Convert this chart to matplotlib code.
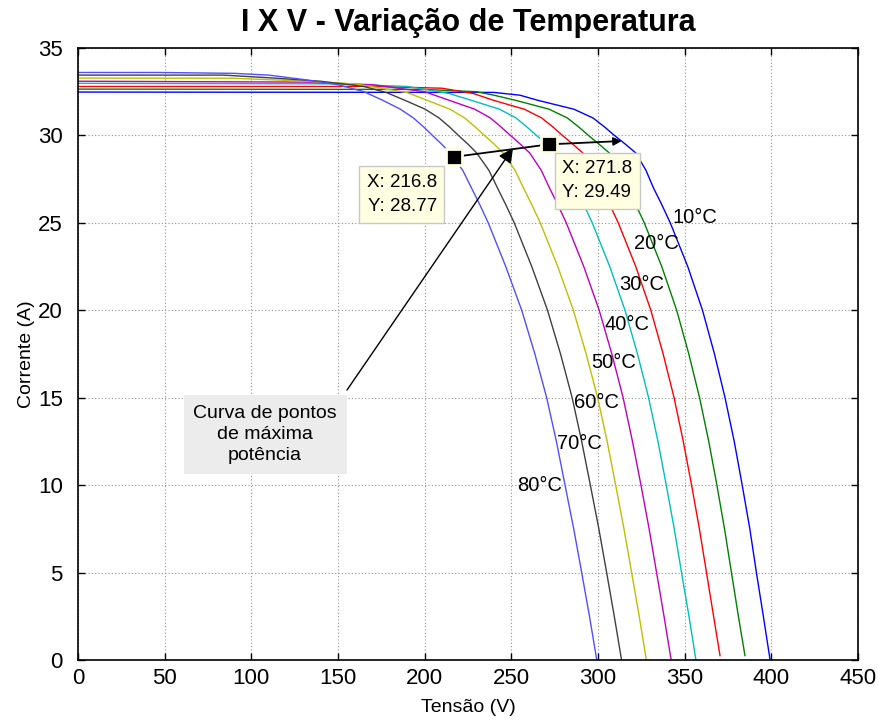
import matplotlib
matplotlib.use("Agg")
import matplotlib.pyplot as plt

plt.rcParams['font.family'] = ['Liberation Sans', 'DejaVu Sans']

# curvas I x V (tensao V, corrente A)
v_80 = [0, 47, 90, 110, 130, 150, 165, 176.0, 186.0, 193.5, 199.3, 204.5, 209.8, 214.7, 222.0, 227.0, 232.0, 236.7,
        246.8, 256.0, 263.6, 270.4, 276.0, 281.0, 286.0, 290.6, 295.1, 299.3]
i_80 = [33.6, 33.6, 33.55, 33.45, 33.2, 32.9, 32.5, 32.0, 31.5, 31.0, 30.5, 30.0, 29.5, 29.0, 28.0, 27.0, 26.0, 25.0,
        22.5, 20.0, 17.5, 15.0, 12.5, 10.0, 7.5, 5.0, 2.5, 0.0]

v_70 = [0, 84, 110, 140, 165, 178, 188.8, 200.3, 208.3, 214.2, 219.5, 225.0, 230.0, 237.1, 242.0, 247.0, 251.7,
        261.8, 270.9, 278.4, 285.1, 290.6, 295.6, 300.5, 305.0, 309.4, 313.6]
i_70 = [33.45, 33.45, 33.3, 33.1, 32.8, 32.45, 32.0, 31.5, 31.0, 30.5, 30.0, 29.5, 29.0, 28.0, 27.0, 26.0, 25.0,
        22.5, 20.0, 17.5, 15.0, 12.5, 10.0, 7.5, 5.0, 2.5, 0.0]

v_60 = [0, 90, 120, 160, 190, 201.6, 214.6, 223.1, 229.0, 234.5, 240.1, 245.3, 252.2, 257.0, 262.0, 266.7,
        276.8, 285.8, 293.2, 299.8, 305.3, 310.2, 315.0, 319.4, 323.8, 327.9]
i_60 = [33.28, 33.27, 33.15, 32.95, 32.45, 32.0, 31.5, 31.0, 30.5, 30.0, 29.5, 29.0, 28.0, 27.0, 26.0, 25.0,
        22.5, 20.0, 17.5, 15.0, 12.5, 10.0, 7.5, 5.0, 2.5, 0.0]

v_50 = [0, 130, 170, 200, 214.4, 228.9, 237.9, 243.9, 249.5, 255.2, 260.6, 267.3, 272.0, 277.0, 281.7,
        291.8, 300.7, 308.0, 314.5, 319.9, 324.8, 329.5, 333.8, 338.1, 342.2]
i_50 = [33.1, 33.05, 32.9, 32.5, 32.0, 31.5, 31.0, 30.5, 30.0, 29.5, 29.0, 28.0, 27.0, 26.0, 25.0,
        22.5, 20.0, 17.5, 15.0, 12.5, 10.0, 7.5, 5.0, 2.5, 0.0]

v_40 = [0, 150, 190, 214, 227.2, 243.2, 252.7, 258.8, 264.5, 270.6, 275.9, 282.4, 287.0, 292.0, 296.7,
        306.8, 315.6, 322.8, 329.2, 334.6, 339.4, 344.0, 348.2, 352.5, 356.5]
i_40 = [32.98, 32.95, 32.8, 32.4, 32.0, 31.5, 31.0, 30.5, 30.0, 29.5, 29.0, 28.0, 27.0, 26.0, 25.0,
        22.5, 20.0, 17.5, 15.0, 12.5, 10.0, 7.5, 5.0, 2.5, 0.0]

v_30 = [0, 170, 210, 228, 240.0, 257.5, 267.5, 273.8, 279.5, 285.5, 291.2, 297.5, 302.0, 307.0, 311.7,
        321.8, 330.5, 337.6, 343.9, 349.2, 354.0, 358.5, 362.6, 366.7, 370.4]
i_30 = [32.8, 32.8, 32.7, 32.4, 32.0, 31.5, 31.0, 30.5, 30.0, 29.5, 29.0, 28.0, 27.0, 26.0, 25.0,
        22.5, 20.0, 17.5, 15.0, 12.5, 10.0, 7.5, 5.0, 2.5, 0.25]

v_20 = [0, 200, 230, 240, 252.8, 271.8, 282.3, 288.7, 294.5, 300.6, 306.5, 312.6, 317.0, 322.0, 326.7,
        336.8, 345.4, 352.4, 358.6, 363.9, 368.6, 373.0, 377.0, 381.0, 384.8]
i_20 = [32.65, 32.63, 32.5, 32.3, 32.0, 31.5, 31.0, 30.5, 30.0, 29.5, 29.0, 28.0, 27.0, 26.0, 25.0,
        22.5, 20.0, 17.5, 15.0, 12.5, 10.0, 7.5, 5.0, 2.5, 0.25]

v_10 = [0, 240, 255, 265.6, 286.1, 297.1, 303.6, 309.5, 315.8, 321.8, 327.7, 332.0, 337.0, 341.7,
        351.8, 360.3, 367.2, 373.3, 378.6, 383.2, 387.6, 391.4, 395.4, 399.3]
i_10 = [32.48, 32.46, 32.3, 32.0, 31.5, 31.0, 30.5, 30.0, 29.5, 29.0, 28.0, 27.0, 26.0, 25.0,
        22.5, 20.0, 17.5, 15.0, 12.5, 10.0, 7.5, 5.0, 2.5, 0.0]

temps = ['10°C', '20°C', '30°C', '40°C', '50°C', '60°C', '70°C', '80°C']
curves_v = [v_10, v_20, v_30, v_40, v_50, v_60, v_70, v_80]
curves_i = [i_10, i_20, i_30, i_40, i_50, i_60, i_70, i_80]
colors = ['#0000ff', '#008000', '#ff0000', '#00bfbf', '#bf00bf', '#bfbf00', '#404040', '#5050ff']

# posicao dos rotulos de temperatura (canto esquerdo, centro vertical)
label_x = [343.0, 320.8, 312.0, 304.0, 296.0, 286.0, 276.5, 253.3]
label_y = [25.3, 23.8, 21.5, 19.2, 17.0, 14.7, 12.4, 10.0]

# pontos de maxima potencia marcados
mpp_v = [216.8, 271.8]
mpp_i = [28.77, 29.49]
mpp_end = (313.7, 29.68)   # ponta da seta (curva de 10°C)
arrow_tip = (251.0, 29.28)
arrow_tail = (155.2, 15.44)
note_pos = (108.0, 12.9)

fig = plt.figure(figsize=(8.79, 7.24), dpi=100)
ax = fig.add_axes([0.0887, 0.0884, 0.8874, 0.8453])

for v, i, c in zip(curves_v, curves_i, colors):
    ax.plot(v, i, color=c, lw=1.0)

for t, x, y in zip(temps, label_x, label_y):
    ax.text(x, y, t, fontsize=14.5, ha='left', va='center')

# linha dos pontos de maxima potencia
ax.plot(mpp_v, mpp_i, color='black', lw=1.3, zorder=5)
ax.annotate('', xy=mpp_end, xytext=(mpp_v[-1], mpp_i[-1]),
            arrowprops=dict(arrowstyle='-|>', color='black', lw=1.3, mutation_scale=12,
                            shrinkA=0, shrinkB=0), zorder=5)
ax.plot(mpp_v, mpp_i, 's', color='black', markersize=11, markeredgecolor='#ffffe1',
        markeredgewidth=2, zorder=6)

tip_box = dict(boxstyle='square,pad=0.4', facecolor='#ffffe1', edgecolor='#c8c8c8', lw=1)
ax.annotate('X: %.1f\nY: %.2f' % (mpp_v[0], mpp_i[0]), xy=(mpp_v[0], mpp_i[0]),
            xytext=(-17, -17), textcoords='offset pixels', ha='right', va='top',
            fontsize=13.5, linespacing=1.55, bbox=tip_box, zorder=7)
ax.annotate('X: %.1f\nY: %.2f' % (mpp_v[1], mpp_i[1]), xy=(mpp_v[1], mpp_i[1]),
            xytext=(13, -16), textcoords='offset pixels', ha='left', va='top',
            fontsize=13.5, linespacing=1.55, bbox=tip_box, zorder=7)

# seta da anotacao
ax.annotate('', xy=arrow_tip, xytext=arrow_tail,
            arrowprops=dict(arrowstyle='-|>', color='black', lw=1.0, mutation_scale=22,
                            shrinkA=0, shrinkB=0), zorder=5)
ax.text(note_pos[0], note_pos[1], 'Curva de pontos\nde máxima\npotência', fontsize=14,
        ha='center', va='center', linespacing=1.3,
        bbox=dict(boxstyle='square,pad=0.5', facecolor='#ececec', edgecolor='none'))

ax.set_xlim(0, 450)
ax.set_ylim(0, 35)
ax.set_xticks(range(0, 451, 50))
ax.set_yticks(range(0, 36, 5))
ax.tick_params(direction='in', top=True, right=True, length=5, labelsize=16, width=1)
ax.tick_params(axis='y', pad=11)
ax.tick_params(axis='x', pad=6)
ax.grid(True, linestyle=(0, (1, 2)), color='#909090', lw=0.8)
for s in ax.spines.values():
    s.set_linewidth(1.2)

ax.set_xlabel('Tensão (V)', fontsize=14, labelpad=7)
ax.set_ylabel('Corrente (A)', fontsize=14, labelpad=2)
ax.set_title('I X V - Variação de Temperatura', fontsize=22, fontweight='bold', pad=12)

fig.savefig('out.png', dpi=100)
